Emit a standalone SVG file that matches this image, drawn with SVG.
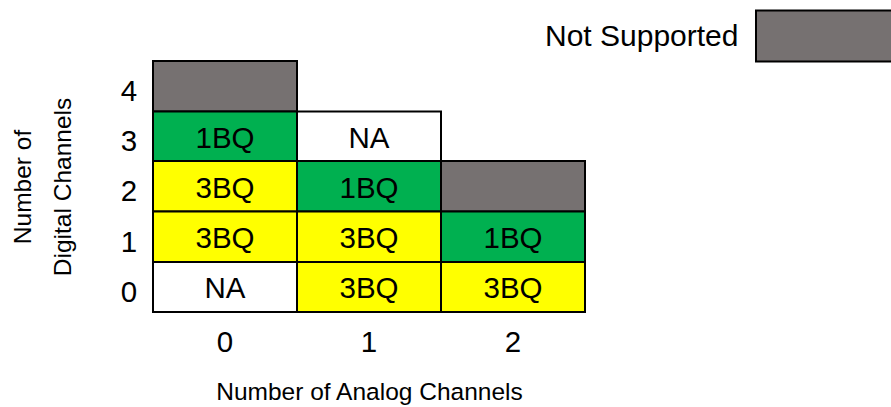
<svg xmlns="http://www.w3.org/2000/svg" width="891" height="407" viewBox="0 0 891 407">
  <style>
    .cell { stroke: #000; stroke-width: 2; }
    .ns { fill: #767171; }
    .g { fill: #00B050; }
    .y { fill: #FFFF00; }
    .w { fill: #FFFFFF; }
    text { font-family: "Liberation Sans", Arial, sans-serif; fill: #000; }
    .lbl { font-size: 29.5px; text-anchor: middle; }
    .ax { font-size: 24.5px; text-anchor: middle; }
  </style>
  <rect width="891" height="407" fill="#FFFFFF"/>

  <!-- legend -->
  <g id="legend">
    <text x="545" y="46" font-size="30">Not Supported</text>
    <rect class="cell ns" x="756" y="10.5" width="150" height="51"/>
  </g>

  <!-- grid cells: columns = analog channels, rows = digital channels -->
  <g id="d4-a0"><rect class="cell ns" x="153" y="61" width="144" height="50.5"/></g>

  <g id="d3-a0"><rect class="cell g" x="153" y="111.5" width="144" height="49.5"/><text class="lbl" x="225" y="147.5">1BQ</text></g>
  <g id="d3-a1"><rect class="cell w" x="297" y="111.5" width="144" height="49.5"/><text class="lbl" x="369" y="147.5">NA</text></g>

  <g id="d2-a0"><rect class="cell y" x="153" y="161" width="144" height="50.5"/><text class="lbl" x="225" y="197.5">3BQ</text></g>
  <g id="d2-a1"><rect class="cell g" x="297" y="161" width="144" height="50.5"/><text class="lbl" x="369" y="197.5">1BQ</text></g>
  <g id="d2-a2"><rect class="cell ns" x="441" y="161" width="144" height="50.5"/></g>

  <g id="d1-a0"><rect class="cell y" x="153" y="211.5" width="144" height="50.5"/><text class="lbl" x="225" y="248">3BQ</text></g>
  <g id="d1-a1"><rect class="cell y" x="297" y="211.5" width="144" height="50.5"/><text class="lbl" x="369" y="248">3BQ</text></g>
  <g id="d1-a2"><rect class="cell g" x="441" y="211.5" width="144" height="50.5"/><text class="lbl" x="513" y="248">1BQ</text></g>

  <g id="d0-a0"><rect class="cell w" x="153" y="262" width="144" height="50"/><text class="lbl" x="225" y="298">NA</text></g>
  <g id="d0-a1"><rect class="cell y" x="297" y="262" width="144" height="50"/><text class="lbl" x="369" y="298">3BQ</text></g>
  <g id="d0-a2"><rect class="cell y" x="441" y="262" width="144" height="50"/><text class="lbl" x="513" y="298">3BQ</text></g>

  <!-- digital channel ticks -->
  <g id="y-ticks">
    <text class="lbl" x="129" y="101">4</text>
    <text class="lbl" x="129" y="151">3</text>
    <text class="lbl" x="129" y="201">2</text>
    <text class="lbl" x="129" y="252">1</text>
    <text class="lbl" x="129" y="302">0</text>
  </g>

  <!-- analog channel ticks -->
  <g id="x-ticks">
    <text class="lbl" x="225" y="352">0</text>
    <text class="lbl" x="369" y="352">1</text>
    <text class="lbl" x="513" y="352">2</text>
  </g>

  <!-- axis titles -->
  <g id="y-title">
    <text class="ax" transform="translate(31,187) rotate(-90)">Number of</text>
    <text class="ax" transform="translate(71,187) rotate(-90)">Digital Channels</text>
  </g>
  <g id="x-title">
    <text class="ax" x="369.5" y="400">Number of Analog Channels</text>
  </g>

  <!-- connectors: none in this chart -->
  <g id="connectors"/>
</svg>
